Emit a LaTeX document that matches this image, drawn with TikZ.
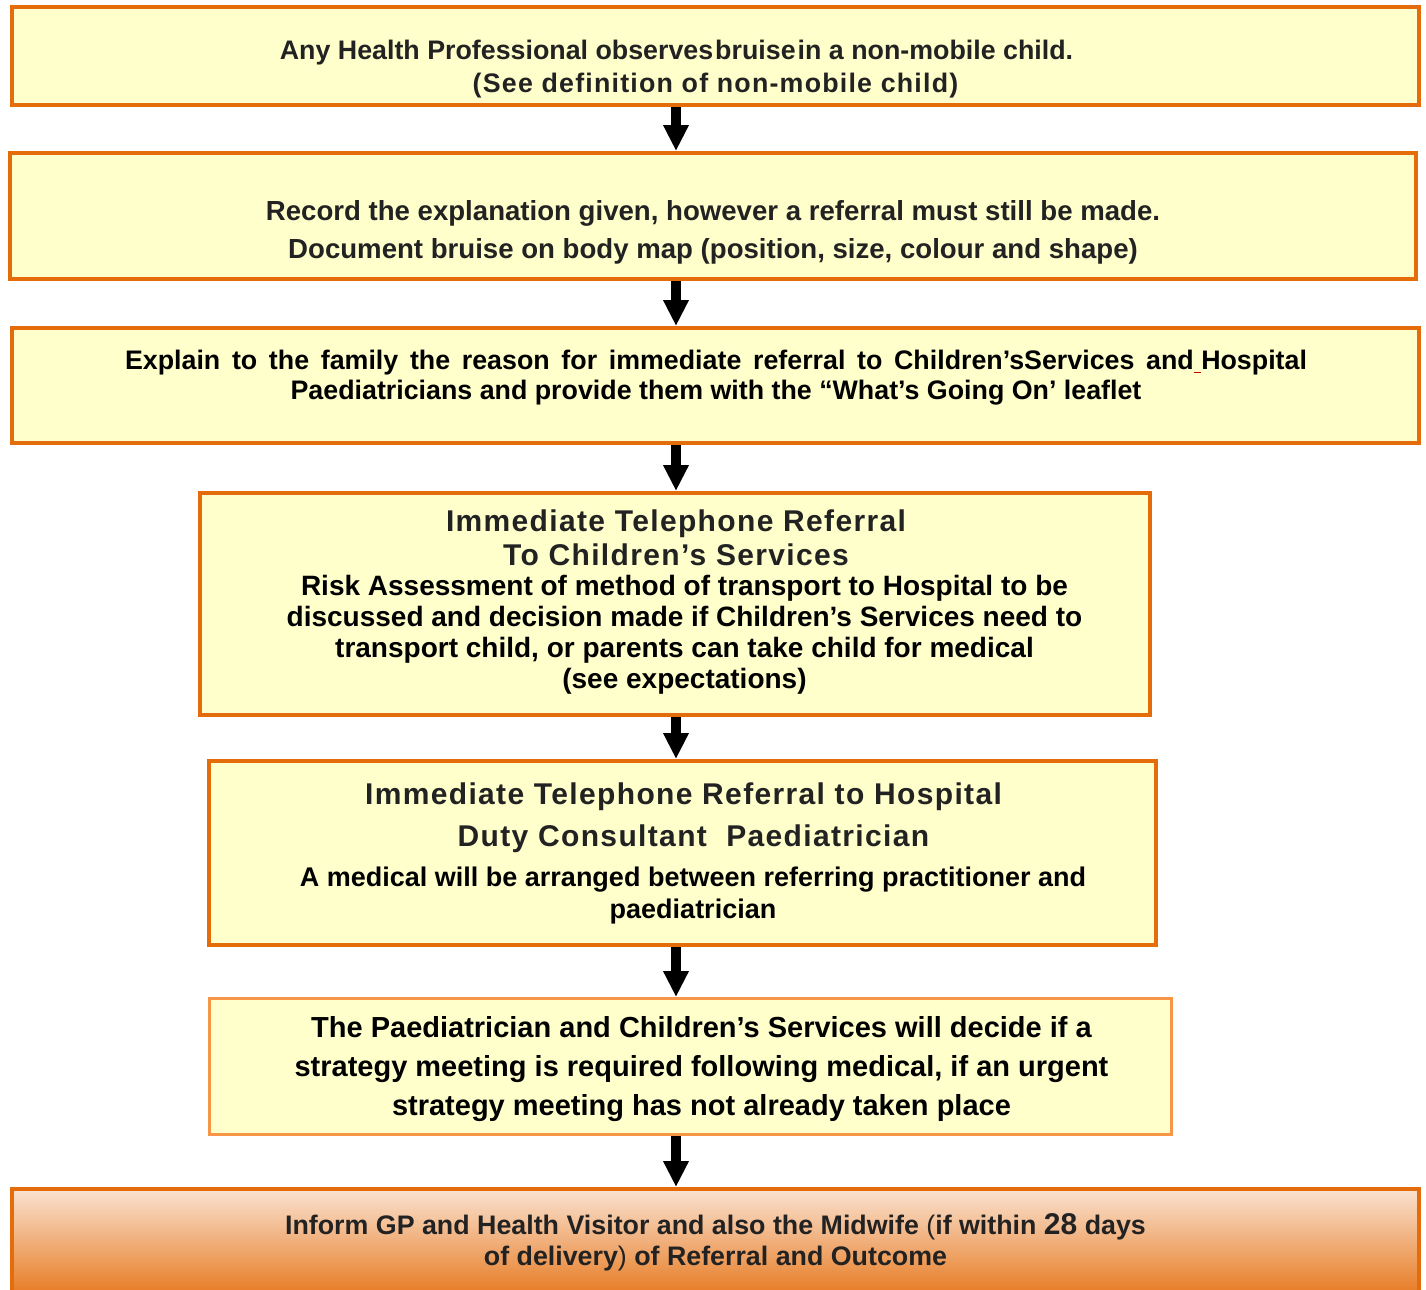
\documentclass[tikz,border=0pt]{standalone}
\usepackage{fontspec}
\setmainfont{Liberation Sans}
\newfontfamily\spacedfont{Liberation Sans}[LetterSpace=4.5]
\usetikzlibrary{arrows.meta}
\definecolor{boxorange}{HTML}{E46C0A}
\definecolor{softorange}{HTML}{F79646}
\definecolor{boxyellow}{HTML}{FFFFCC}
\definecolor{peach}{HTML}{FAE2D0}
\definecolor{midpeach}{HTML}{F0B898}
\definecolor{textgray}{HTML}{222222}

\begin{document}
\begin{tikzpicture}[x=0.5pt,y=-0.5pt,
    box/.style={draw=boxorange,line width=2pt,fill=boxyellow,inner sep=0pt},
    txt/.style={align=center,inner sep=0pt,text=textgray,font=\bfseries\fontsize{13.4pt}{15pt}\selectfont},
    ttl/.style={align=center,inner sep=0pt,text=textgray,font=\spacedfont\bfseries\fontsize{15pt}{17pt}\selectfont},
    flow/.style={line width=4.7pt,-{Triangle[length=13pt,width=12pt]}}]
    \useasboundingbox[fill=white] (0,0) rectangle (1426,1290);
    \coordinate (axis) at (676,0);
    % boxes
    \node[box,minimum width=703.5pt,minimum height=49pt] (b1) at (715.5,56) {};
    \node[box,minimum width=703pt,minimum height=63pt] (b2) at (713,216) {};
    \node[box,minimum width=703.5pt,minimum height=57.5pt] (b3) at (715.5,385.5) {};
    \node[box,minimum width=475pt,minimum height=111pt] (b4) at (675,604) {};
    \node[box,minimum width=473.5pt,minimum height=92pt] (b5) at (682.5,853) {};
    \node[box,draw=softorange,line width=1.5pt,minimum width=481pt,minimum height=68pt] (b6) at (690.5,1066.5) {};
    \node[box,top color=peach,middle color=midpeach,bottom color=boxorange,minimum width=703.5pt,minimum height=60.5pt] (b7) at (715.5,1249.5) {};
    % texts
    \node[txt] (t1a) at (676.5,53) {Any Health Professional observes\hspace{1pt}bruise\hspace{1pt}in a non-mobile child.};
    \node[txt,font=\spacedfont\bfseries\fontsize{13.4pt}{15pt}\selectfont] (t1b) at (715.5,86) {(See definition of non-mobile child)};
    \node[txt,font=\bfseries\fontsize{13.8pt}{19pt}\selectfont] (t2) at (713,232)
        {Record the explanation given, however a referral must still be made.\\
         Document bruise on body map (position, size, colour and shape)};
    \node[txt,text=black] (t3) at (716,378)
        {\makebox[591pt][s]{Explain to the family the reason for immediate referral to Children’sServices and{\color{red!80!black}\underline{\ }}Hospital}\\
         Paediatricians and provide them with the “What’s Going On’ leaflet};
    \node[ttl] (t4a) at (676,538) {Immediate Telephone Referral\\To Children’s Services};
    \node[txt,text=black,font=\bfseries\fontsize{14pt}{15.5pt}\selectfont] (t4b) at (684.5,634.5)
        {Risk Assessment of method of transport to Hospital to be\\
         discussed and decision made if Children’s Services need to\\
         transport child, or parents can take child for medical\\
         (see expectations)};
    \node[ttl] (t5a) at (683.5,797) {Immediate Telephone Referral to Hospital};
    \node[ttl] (t5b) at (693.5,839) {Duty Consultant\ \ Paediatrician};
    \node[txt,text=black,font=\bfseries\fontsize{13.5pt}{16pt}\selectfont] (t5c) at (693,896)
        {A medical will be arranged between referring practitioner and\\paediatrician};
    \node[txt,text=black,font=\bfseries\fontsize{14.5pt}{19.5pt}\selectfont] (t6) at (701.5,1069)
        {The Paediatrician and Children’s Services will decide if a\\
         strategy meeting is required following medical, if an urgent\\
         strategy meeting has not already taken place};
    \node[txt,font=\bfseries\fontsize{13.4pt}{15.5pt}\selectfont] (t7) at (715.5,1242.5)
        {Inform GP and Health Visitor and also the Midwife {\mdseries(}if within {\fontsize{15pt}{15.5pt}\selectfont 28} days\\
         of delivery{\mdseries)} of Referral and Outcome};
    % arrows
    \draw[flow] (b1.south -| axis) -- (b2.north -| axis);
    \draw[flow] (b2.south -| axis) -- (b3.north -| axis);
    \draw[flow] (b3.south -| axis) -- (b4.north -| axis);
    \draw[flow] (b4.south -| axis) -- (b5.north -| axis);
    \draw[flow] (b5.south -| axis) -- (b6.north -| axis);
    \draw[flow] (b6.south -| axis) -- (b7.north -| axis);
\end{tikzpicture}
\end{document}
